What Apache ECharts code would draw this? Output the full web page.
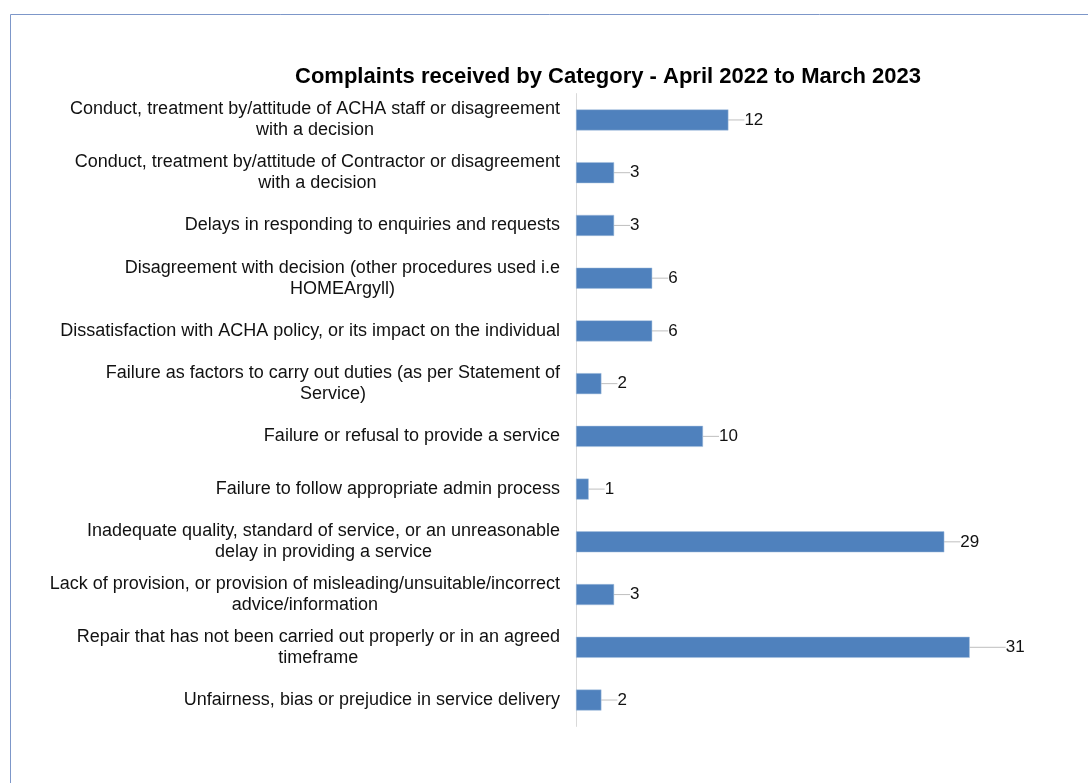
<!DOCTYPE html>
<html>
<head>
<meta charset="utf-8">
<script src="https://cdn.jsdelivr.net/npm/echarts@6/dist/echarts.min.js"></script>
<style>
  html, body { margin: 0; padding: 0; background: #fff; }
  #chart { width: 1088px; height: 783px; }
</style>
</head>
<body>
<div id="chart"></div>
<script>
// Complaint categories, listed top to bottom
const categories = [
  'Conduct, treatment by/attitude of ACHA staff or disagreement\nwith a decision',
  'Conduct, treatment by/attitude of Contractor or disagreement\nwith a decision',
  'Delays in responding to enquiries and requests',
  'Disagreement with decision (other procedures used i.e\nHOMEArgyll)',
  'Dissatisfaction with ACHA policy, or its impact on the individual',
  'Failure as factors to carry out duties (as per Statement of\nService)',
  'Failure or refusal to provide a service',
  'Failure to follow appropriate admin process',
  'Inadequate quality, standard of service, or an unreasonable\ndelay in providing a service',
  'Lack of provision, or provision of misleading/unsuitable/incorrect\nadvice/information',
  'Repair that has not been carried out properly or in an agreed\ntimeframe',
  'Unfairness, bias or prejudice in service delivery'
];

// Number of complaints in each category
const complaints = [12, 3, 3, 6, 6, 2, 10, 1, 29, 3, 31, 2];

const chart = echarts.init(document.getElementById('chart'), null, { renderer: 'canvas' });

chart.setOption({
  animation: false,
  backgroundColor: '#ffffff',
  textStyle: { fontFamily: '"Liberation Sans", Arial, sans-serif' },
  graphic: [{
    type: 'rect',
    shape: { x: 10.5, y: 14.5, width: 1200, height: 900 },
    style: { fill: 'none', stroke: '#7d97c9', lineWidth: 1 },
    silent: true
  }],
  title: {
    text: 'Complaints received by Category - April 2022 to March 2023',
    left: 603,
    textAlign: 'center',
    top: 61,
    textStyle: { fontSize: 22, fontWeight: 'bold', color: '#000' }
  },
  grid: { left: 576, top: 93.6, width: 508, height: 632.8, containLabel: false },
  xAxis: {
    type: 'value',
    min: 0,
    max: 40,
    show: false
  },
  yAxis: {
    type: 'category',
    data: categories,
    inverse: true,
    axisLine: { show: true, lineStyle: { color: '#d9d9d9', width: 1 } },
    axisTick: { show: false },
    axisLabel: {
      margin: 16,
      align: 'right',
      // each wrapped line is centred inside the right-aligned label block
      formatter: function (value) {
        return value.split('\n').map(function (line) {
          return '{c|' + line + '}';
        }).join('\n');
      },
      rich: {
        c: {
          align: 'center',
          fontSize: 18,
          lineHeight: 21,
          color: '#111',
          fontFamily: '"Liberation Sans", Arial, sans-serif'
        }
      }
    }
  },
  series: [{
    type: 'bar',
    data: complaints,
    barWidth: 21,
    itemStyle: { color: '#4f81bd', borderColor: '#a7c0de', borderWidth: 0.5 },
    label: {
      show: true,
      position: 'right',
      distance: 0,
      fontSize: 17,
      color: '#111',
      padding: [2, 0, 0, 4]
    },
    labelLayout: function (params) {
      return { dx: params.dataIndex === 10 ? 32 : 12 };
    },
    labelLine: {
      show: true,
      lineStyle: { color: '#bfbfbf', width: 1 }
    }
  }]
});
</script>
</body>
</html>
